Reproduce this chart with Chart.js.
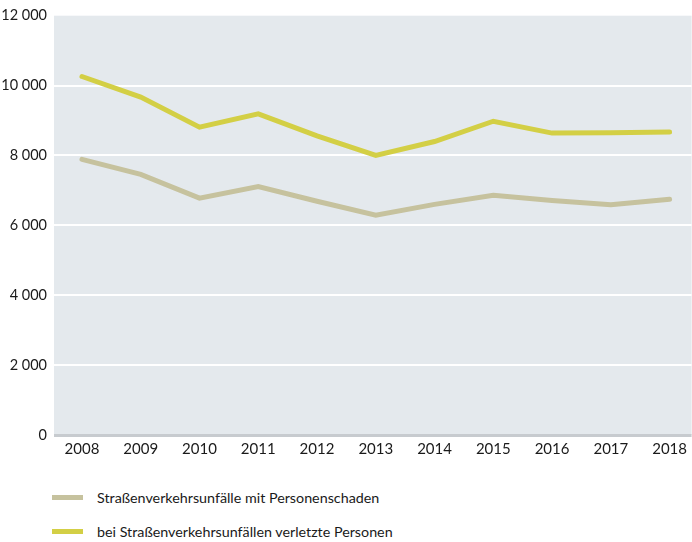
<!DOCTYPE html>
<html>
<head>
<meta charset="utf-8">
<script src="https://cdn.jsdelivr.net/npm/chart.js@4"></script>
<style>
  body { margin: 0; background: #fff; font-family: Lato, sans-serif; overflow: hidden; }
  #wrap { position: relative; width: 692px; height: 470px; }
  #legend { margin: 10px 0 0 52px; }
  .item { display: flex; align-items: center; height: 34px; font-size: 14.3px; color: #1a1a1a; }
  .swatch { width: 31px; height: 5px; margin-right: 14px; }
</style>
</head>
<body>
<div id="wrap"><canvas id="unfaelle"></canvas></div>
<div id="legend"></div>
<script>
const years = [2008, 2009, 2010, 2011, 2012, 2013, 2014, 2015, 2016, 2017, 2018];
const unfaelle = [7890, 7460, 6780, 7110, 6690, 6290, 6600, 6860, 6710, 6590, 6750];
const verletzte = [10260, 9670, 8810, 9190, 8560, 8000, 8400, 8980, 8640, 8650, 8670];
const yTicks = [0, 2000, 4000, 6000, 8000, 10000, 12000];

const seriesNames = ['Straßenverkehrsunfälle mit Personenschaden', 'bei Straßenverkehrsunfällen verletzte Personen'];
const seriesColors = ['#c6c29e', '#d3cf45'];

const fmt = v => String(v).replace(/\B(?=(\d{3})+(?!\d))/g, '\u202F');

// grey plot background
const plotBg = {
    id: 'plotBg',
    beforeDraw(chart) {
        const a = chart.chartArea;
        chart.ctx.save();
        chart.ctx.fillStyle = '#e4e9ed';
        chart.ctx.fillRect(a.left, a.top, a.right - a.left, a.bottom - a.top);
        chart.ctx.restore();
    }
};

const ctx = document.getElementById('unfaelle');

new Chart(ctx, {
    type: 'line',
    data: {
        datasets: [
            {
                label: seriesNames[0],
                data: years.map((y, i) => ({ x: y, y: unfaelle[i] })),
                borderColor: seriesColors[0],
                borderWidth: 5,
                borderCapStyle: 'round',
                pointRadius: 0,
                tension: 0
            },
            {
                label: seriesNames[1],
                data: years.map((y, i) => ({ x: y, y: verletzte[i] })),
                borderColor: seriesColors[1],
                borderWidth: 5,
                borderCapStyle: 'round',
                pointRadius: 0,
                tension: 0
            }
        ]
    },
    options: {
        responsive: true,
        maintainAspectRatio: false,
        animation: false,
        layout: { padding: { top: 14, right: 0, left: 0, bottom: 0 } },
        plugins: {
            legend: { display: false },
            tooltip: { enabled: false }
        },
        scales: {
            x: {
                type: 'linear',
                min: 2007.524,
                max: 2018.374,
                afterBuildTicks: axis => { axis.ticks = years.map(v => ({ value: v })); },
                afterFit: axis => { axis.height = 35; },
                grid: { display: false, drawTicks: false },
                border: { display: false },
                ticks: {
                    padding: 5,
                    color: '#1a1a1a',
                    font: { family: 'Lato', size: 15 },
                    callback: v => String(v),
                    maxRotation: 0
                }
            },
            y: {
                min: 0,
                max: 12000,
                afterBuildTicks: axis => { axis.ticks = yTicks.map(v => ({ value: v })); },
                afterFit: axis => { axis.width = 54; },
                border: { display: false },
                grid: {
                    drawTicks: false,
                    color: c => c.tick.value === 0 ? '#c7cbcf' : (c.tick.value === 12000 ? 'rgba(0,0,0,0)' : '#ffffff'),
                    lineWidth: c => c.tick.value === 0 ? 3 : 2
                },
                ticks: {
                    padding: 7,
                    color: '#1a1a1a',
                    font: { family: 'Lato', size: 14.5 },
                    callback: v => fmt(v)
                }
            }
        }
    },
    plugins: [plotBg]
});

const legend = document.getElementById('legend');
seriesNames.forEach((name, i) => {
    const row = document.createElement('div');
    row.className = 'item';
    row.innerHTML = '<span class="swatch" style="background:' + seriesColors[i] + '"></span><span>' + name + '</span>';
    legend.appendChild(row);
});
</script>
</body>
</html>
